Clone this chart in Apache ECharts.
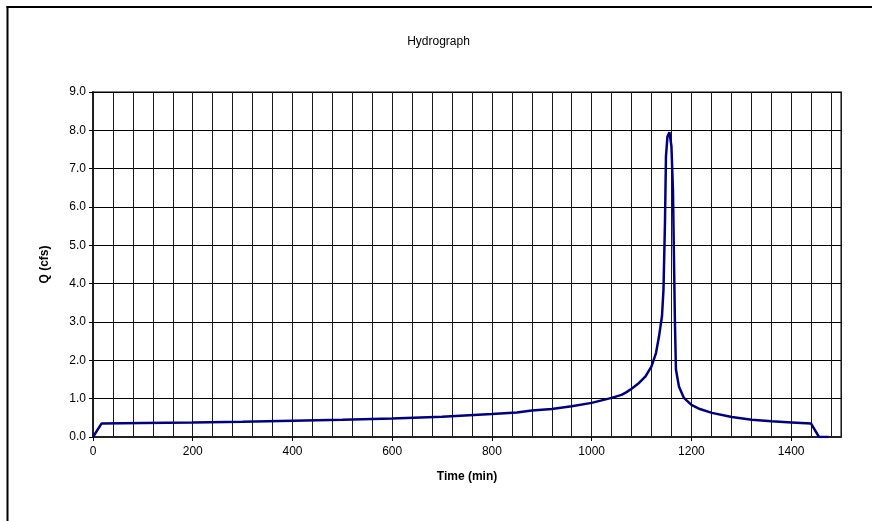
<!DOCTYPE html>
<html>
<head>
<meta charset="utf-8">
<script src="https://cdn.jsdelivr.net/npm/echarts@6/dist/echarts.min.js"></script>
<style>html,body{margin:0;padding:0;background:#fff}#c{width:877px;height:521px}</style>
</head>
<body>
<div id="c"></div>
<script>
const timeMin = [0, 17, 100, 200, 300, 400, 500, 600, 700, 800, 850, 880, 920, 960, 1000, 1040, 1060, 1070, 1080, 1095, 1108, 1120, 1129, 1135, 1141, 1144, 1147, 1149, 1152, 1156, 1160, 1163, 1165, 1167, 1169, 1175, 1185, 1200, 1217, 1241, 1281, 1321, 1361, 1401, 1440, 1456, 1475];
const flowCfs = [0, 0.35, 0.365, 0.38, 0.40, 0.425, 0.45, 0.48, 0.53, 0.60, 0.64, 0.69, 0.73, 0.80, 0.89, 1.02, 1.10, 1.17, 1.26, 1.41, 1.58, 1.84, 2.19, 2.62, 3.15, 3.84, 5.59, 7.32, 7.84, 7.95, 7.58, 6.45, 4.71, 2.97, 1.76, 1.32, 1.02, 0.84, 0.73, 0.63, 0.52, 0.45, 0.41, 0.38, 0.35, 0, 0];
const xTickLabels = [0, 200, 400, 600, 800, 1000, 1200, 1400];

const font = 'Liberation Sans, Arial, sans-serif';
const chart = echarts.init(document.getElementById('c'), null, {renderer: 'canvas'});
chart.setOption({
  animation: false,
  backgroundColor: '#fff',
  title: {
    text: 'Hydrograph', left: 'center', top: 31,
    textStyle: {fontFamily: font, fontSize: 12, fontWeight: 'normal', color: '#000'}
  },
  grid: {left: 93, right: 36, top: 92, bottom: 84, show: true, borderColor: '#808080', borderWidth: 2, backgroundColor: '#fff'},
  graphic: [
    {type: 'line', shape: {x1: 7.5, y1: 6, x2: 7.5, y2: 521}, style: {stroke: '#000', lineWidth: 2}, silent: true},
    {type: 'line', shape: {x1: 6.5, y1: 7, x2: 872, y2: 7}, style: {stroke: '#000', lineWidth: 2}, silent: true}
  ],
  xAxis: [{
    type: 'value', min: 0, max: 1500, interval: 40,
    name: 'Time (min)', nameLocation: 'middle', nameGap: 34,
    nameTextStyle: {fontFamily: font, fontSize: 12, fontWeight: 'bold', color: '#000'},
    axisLine: {show: true, onZero: false, lineStyle: {color: '#222', width: 2}},
    axisTick: {show: true, length: 4, customValues: xTickLabels, lineStyle: {color: '#000'}},
    axisLabel: {customValues: xTickLabels, margin: 9, fontFamily: font, fontSize: 12, color: '#000', formatter: v => String(v)},
    splitLine: {show: false},
    z: 3
  }, {
    type: 'value', min: 0, max: 1500, interval: 40, position: 'bottom',
    axisLine: {show: false}, axisTick: {show: false}, axisLabel: {show: false},
    splitLine: {show: true, lineStyle: {color: '#1a1a1a', width: 1}},
    z: 1
  }],
  yAxis: {
    type: 'value', min: 0, max: 9, interval: 1,
    name: 'Q (cfs)', nameLocation: 'middle', nameGap: 42, nameRotate: 90,
    nameTextStyle: {fontFamily: font, fontSize: 12, fontWeight: 'bold', color: '#000'},
    axisLine: {show: true, lineStyle: {color: '#222', width: 2}},
    axisTick: {show: true, length: 4, lineStyle: {color: '#000'}},
    axisLabel: {margin: 7, fontFamily: font, fontSize: 12, color: '#000', formatter: v => v.toFixed(1)},
    splitLine: {show: true, lineStyle: {color: '#000', width: 1}}
  },
  series: [{
    type: 'line',
    xAxisIndex: 0,
    data: timeMin.map((t, i) => [t, flowCfs[i]]),
    showSymbol: false, smooth: false,
    lineStyle: {color: '#000080', width: 2.5},
    z: 5
  }]
});
</script>
</body>
</html>
